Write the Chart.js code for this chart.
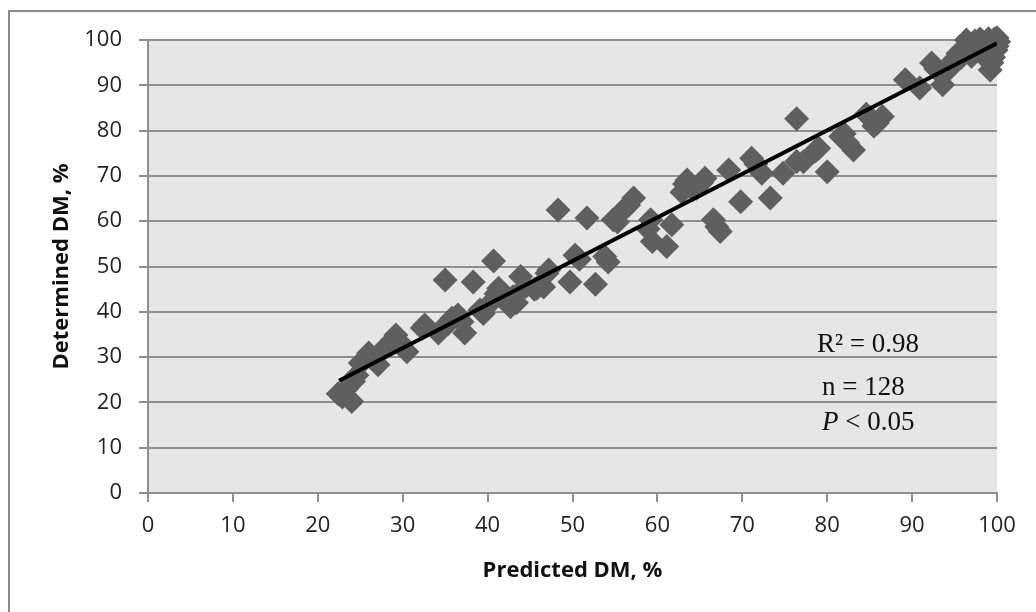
<!DOCTYPE html>
<html>
<head>
<meta charset="utf-8">
<script src="https://cdn.jsdelivr.net/npm/chart.js@4.4.1/dist/chart.umd.min.js"></script>
<style>
    html, body { margin: 0; padding: 0; background: #fff; }
    #wrap { width: 1036px; height: 612px; }
</style>
</head>
<body>
<div id="wrap"><canvas id="dmChart" width="1036" height="612"></canvas></div>
<script>
// values
const predicted = [
    22.4, 22.9, 24.0, 24.2, 24.6, 25.0, 25.6, 26.0, 27.1, 27.6, 28.1, 28.8, 29.2, 29.6, 30.5, 32.3,
    32.6, 34.2, 35.0, 35.4, 35.8, 36.5, 37.3, 37.0, 38.3, 39.1, 39.5, 40.1, 40.7, 41.3, 41.0, 42.2,
    42.7, 43.0, 43.9, 44.5, 45.5, 45.8, 46.6, 47.0, 47.2, 48.3, 49.7, 50.3, 50.8, 51.7, 52.7, 53.8,
    54.8, 55.3, 56.0, 56.6, 57.2, 58.9, 59.2, 59.4, 61.1, 61.7, 63.2, 63.5, 64.2, 64.6, 65.2, 65.6,
    66.6, 67.0, 67.4, 68.4, 69.8, 71.1, 71.6, 72.3, 73.3, 74.8, 76.4, 76.4, 77.2, 78.6, 79.0, 80.0,
    81.6, 82.0, 82.4, 83.1, 84.6, 85.1, 85.5, 85.9, 86.5, 89.2, 90.9, 92.3, 92.8, 93.6, 94.3, 94.9,
    95.4, 95.8, 96.1, 96.4, 96.8, 97.1, 97.4, 97.7, 98.0, 98.2, 98.5, 98.8, 99.0, 99.2, 99.3, 99.5,
    99.6, 99.7, 99.8, 99.9, 100.0, 100.0, 100.2, 99.4, 98.4, 97.0, 96.0, 23.4, 34.6, 43.4, 62.9, 54.2
];
const determined = [
    21.9, 21.2, 20.2, 24.6, 26.0, 28.7, 29.6, 30.9, 28.3, 31.5, 32.3, 33.8, 34.9, 33.4, 31.2, 36.4,
    37.1, 35.3, 47.0, 37.5, 38.6, 39.3, 35.3, 37.8, 46.6, 40.4, 39.6, 41.5, 51.2, 45.2, 44.0, 42.5,
    41.1, 43.3, 47.8, 45.6, 45.0, 45.2, 45.5, 48.5, 49.2, 62.5, 46.6, 52.5, 51.6, 60.7, 46.1, 52.2,
    60.3, 59.8, 62.5, 63.5, 65.1, 58.3, 60.3, 55.5, 54.4, 59.2, 68.2, 69.1, 67.0, 67.3, 68.5, 69.5,
    60.3, 58.8, 57.7, 71.3, 64.3, 73.9, 72.6, 70.6, 65.1, 70.6, 73.2, 82.6, 73.1, 75.5, 76.1, 70.9,
    78.7, 79.3, 77.3, 75.7, 83.6, 82.8, 81.0, 81.7, 83.1, 91.2, 89.4, 94.9, 93.6, 90.1, 93.5, 95.6,
    97.0, 96.2, 98.2, 100.0, 99.0, 97.6, 99.8, 98.4, 100.2, 97.4, 99.0, 95.8, 100.3, 93.4, 97.2, 98.8,
    96.2, 100.2, 99.2, 97.8, 100.5, 98.6, 99.6, 95.0, 96.6, 96.4, 96.8, 23.0, 36.2, 42.0, 66.4, 51.0
];
// fitted line, end points as drawn
const trendX = [22.5, 100];
const trendY = [24.8, 99.3];
const statLines = ["R\u00b2 = 0.98", "n = 128", "P < 0.05"];

const points = predicted.map((x, i) => ({ x: x, y: determined[i] }));
const trend = trendX.map((x, i) => ({ x: x, y: trendY[i] }));

const gridGray = "#8f8f8f";

const backdrop = {
    id: "backdrop",
    beforeDraw(chart) {
        const ctx = chart.ctx;
        const a = chart.chartArea;
        ctx.save();
        ctx.fillStyle = "#ffffff";
        ctx.fillRect(0, 0, chart.width, chart.height);
        ctx.strokeStyle = "#8a8a8a";
        ctx.lineWidth = 2;
        ctx.strokeRect(9, 11, 1100, 700);
        ctx.fillStyle = "#e6e6e6";
        ctx.fillRect(a.left, a.top, a.right - a.left, a.bottom - a.top);
        ctx.restore();
    },
    afterDraw(chart) {
        const ctx = chart.ctx;
        const a = chart.chartArea;
        ctx.save();
        ctx.fillStyle = "#111";
        ctx.textBaseline = "middle";
        ctx.font = "27px 'Liberation Serif'";
        ctx.fillText(statLines[0], a.left + 669, 345);
        ctx.fillText(statLines[1], a.left + 674, 388);
        // italic P, rest upright
        ctx.font = "italic 27px 'Liberation Serif'";
        ctx.fillText("P", a.left + 674, 423);
        const pw = ctx.measureText("P").width;
        ctx.font = "27px 'Liberation Serif'";
        ctx.fillText(statLines[2].slice(1), a.left + 674 + pw, 423);
        ctx.restore();
    }
};

new Chart(document.getElementById("dmChart").getContext("2d"), {
    type: "scatter",
    data: {
        datasets: [
            {
                label: "trend",
                data: trend,
                showLine: true,
                borderColor: "#000",
                borderWidth: 4,
                pointRadius: 0,
                order: 0
            },
            {
                label: "DM",
                data: points,
                pointStyle: "rectRot",
                pointRadius: 12.5,
                pointBackgroundColor: "#5f5f5f",
                pointBorderWidth: 0,
                clip: false,
                order: 1
            }
        ]
    },
    options: {
        responsive: false,
        animation: false,
        devicePixelRatio: 1,
        layout: { padding: { left: 45, top: 40, right: 39, bottom: 24 } },
        plugins: { legend: { display: false }, tooltip: { enabled: false } },
        scales: {
            x: {
                type: "linear",
                min: 0,
                max: 100,
                ticks: { stepSize: 10, padding: 11, color: "#222", font: { family: "'Open Sans'", size: 22 } },
                grid: { drawOnChartArea: false, drawTicks: true, tickLength: 9, color: gridGray, lineWidth: 2 },
                border: { color: gridGray, width: 2 },
                title: {
                    display: true,
                    text: "Predicted DM, %",
                    color: "#111",
                    font: { family: "'Open Sans'", size: 22, weight: "bold" },
                    padding: { top: 4, bottom: 4 }
                },
                afterFit(s) { s.height = 95; }
            },
            y: {
                min: 0,
                max: 100,
                ticks: { stepSize: 10, padding: 17, color: "#222", font: { family: "'Open Sans'", size: 22 } },
                grid: { tickLength: 9, color: gridGray, lineWidth: 2 },
                border: { color: gridGray, width: 2 },
                title: {
                    display: true,
                    text: "Determined DM, %",
                    color: "#111",
                    font: { family: "'Open Sans'", size: 22, weight: "bold" },
                    padding: { top: 4, bottom: 4 }
                },
                afterFit(s) { s.width = 103; }
            }
        }
    },
    plugins: [backdrop]
});
</script>
</body>
</html>
